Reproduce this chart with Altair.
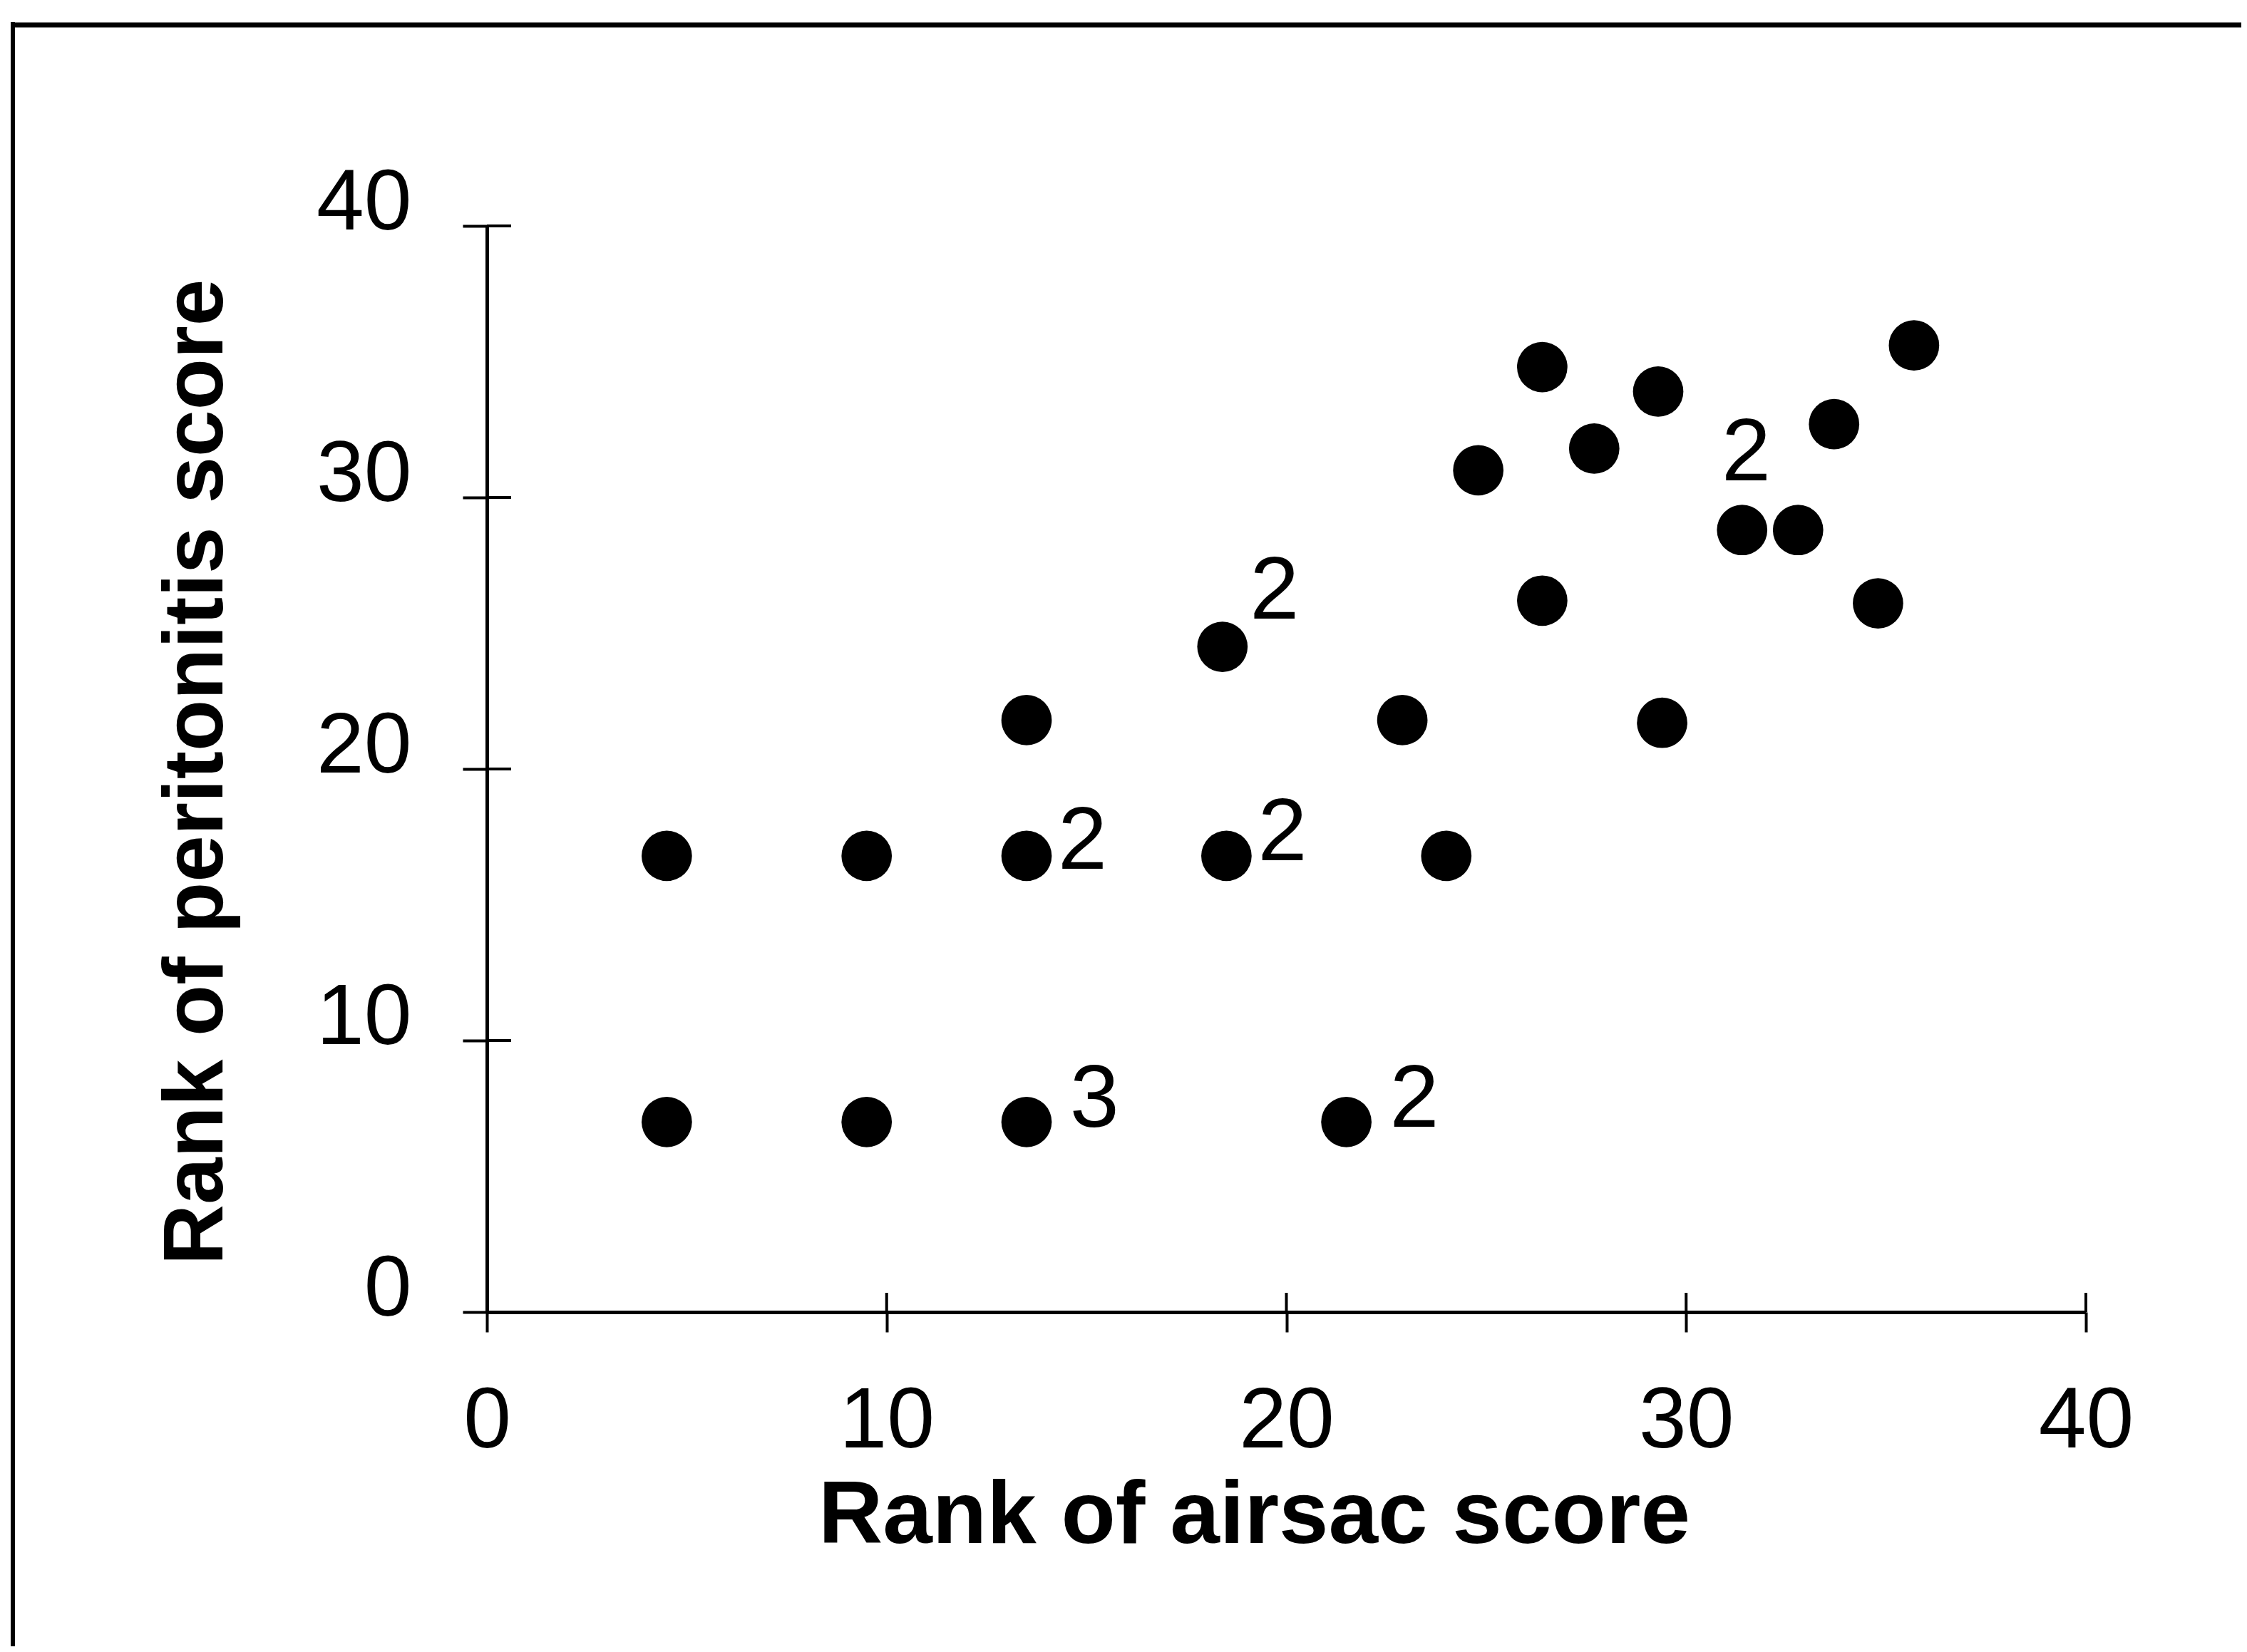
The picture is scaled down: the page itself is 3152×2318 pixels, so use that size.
import altair as alt
import pandas as pd

# ---- data ----
airsac_rank = [4.5, 9.5, 13.5, 18.5, 24.0,
               4.5, 9.5, 13.5, 21.5,
               13.5, 18.4, 22.9, 24.8, 26.4, 26.4, 27.7, 29.3, 29.4,
               31.4, 32.8, 33.7, 34.8, 35.7]
peritonitis_rank = [16.8, 16.8, 16.8, 16.8, 16.8,
                    7.0, 7.0, 7.0, 7.0,
                    21.8, 24.5, 21.8, 31.0, 34.8, 26.2, 31.8, 33.9, 21.7,
                    28.8, 28.8, 32.7, 26.1, 35.6]

# multiplicity annotations (text placed at these data coordinates)
note_x = [14.9, 19.9, 15.2, 23.2, 19.7, 31.5]
note_y = [17.3, 17.6, 7.8, 7.8, 26.5, 31.6]
note_text = ["2", "2", "3", "2", "2", "2"]

tick_values = [0, 10, 20, 30, 40]

pts = pd.DataFrame({"x": airsac_rank, "y": peritonitis_rank})
notes = pd.DataFrame({"x": note_x, "y": note_y, "t": note_text})
ticks = pd.DataFrame({"v": tick_values})

W, H = 2243, 1524
FONT = "Liberation Sans"

xscale = alt.Scale(domain=[0, 40], nice=False, zero=False)
yscale = alt.Scale(domain=[0, 40], nice=False, zero=False)

xaxis = alt.Axis(values=tick_values, format="d", grid=False, labelFlush=False, labelOverlap=False,
                 labelLimit=2000, labelBound=False,
                 labelFont=FONT, labelFontSize=120, labelColor="black", labelPadding=66,
                 domainColor="black", domainWidth=5, tickColor="black", tickWidth=4, tickSize=28,
                 title="Rank of airsac score", titleFont=FONT, titleFontSize=125,
                 titleFontWeight="bold", titleColor="black",
                 titleX=1076, titleY=323, titleAlign="center", titleBaseline="alphabetic")
yaxis = alt.Axis(values=tick_values, format="d", grid=False, labelOverlap=False, labelFlush=False,
                 labelLimit=2000,
                 labelFont=FONT, labelFontSize=120, labelColor="black", labelPadding=72,
                 labelOffset=-32,
                 domainColor="black", domainWidth=5, tickColor="black", tickWidth=4, tickSize=34,
                 title="Rank of peritonitis score", titleFont=FONT, titleFontSize=118,
                 titleFontWeight="bold", titleColor="black", titleAngle=270,
                 titleX=-372, titleY=766, titleAlign="center", titleBaseline="alphabetic")

points = alt.Chart(pts).mark_circle(color="black", opacity=1, size=5000).encode(
    x=alt.X("x:Q", scale=xscale, axis=xaxis),
    y=alt.Y("y:Q", scale=yscale, axis=yaxis),
)

labels = alt.Chart(notes).mark_text(font=FONT, fontSize=124, color="black",
                                    align="center", baseline="middle").encode(
    x=alt.X("x:Q", scale=xscale),
    y=alt.Y("y:Q", scale=yscale),
    text="t:N",
)

# inward halves of the crossing ticks
ytick_in = alt.Chart(ticks).mark_rule(color="black", strokeWidth=4).encode(
    y=alt.Y("v:Q", scale=yscale),
    x=alt.value(0), x2=alt.value(34),
)
xtick_in = alt.Chart(ticks).mark_rule(color="black", strokeWidth=4).encode(
    x=alt.X("v:Q", scale=xscale),
    y=alt.value(H - 27), y2=alt.value(H),
)

# outer frame of the figure (top and left edges visible)
frame_top = alt.Chart(ticks.head(1)).mark_rule(color="black", strokeWidth=7).encode(
    x=alt.value(-668), x2=alt.value(2480), y=alt.value(-282)
)
frame_left = alt.Chart(ticks.head(1)).mark_rule(color="black", strokeWidth=6).encode(
    x=alt.value(-665), y=alt.value(-286), y2=alt.value(2010)
)

chart = alt.layer(frame_top, frame_left, ytick_in, xtick_in, points, labels).properties(
    width=W, height=H,
    autosize=alt.AutoSizeParams(type="none"),
    padding={"left": 675, "top": 309, "right": 218, "bottom": 469},
    background="white",
).configure_view(stroke=None)

chart.save("out.html", embed_options={"renderer": "svg", "actions": False})
